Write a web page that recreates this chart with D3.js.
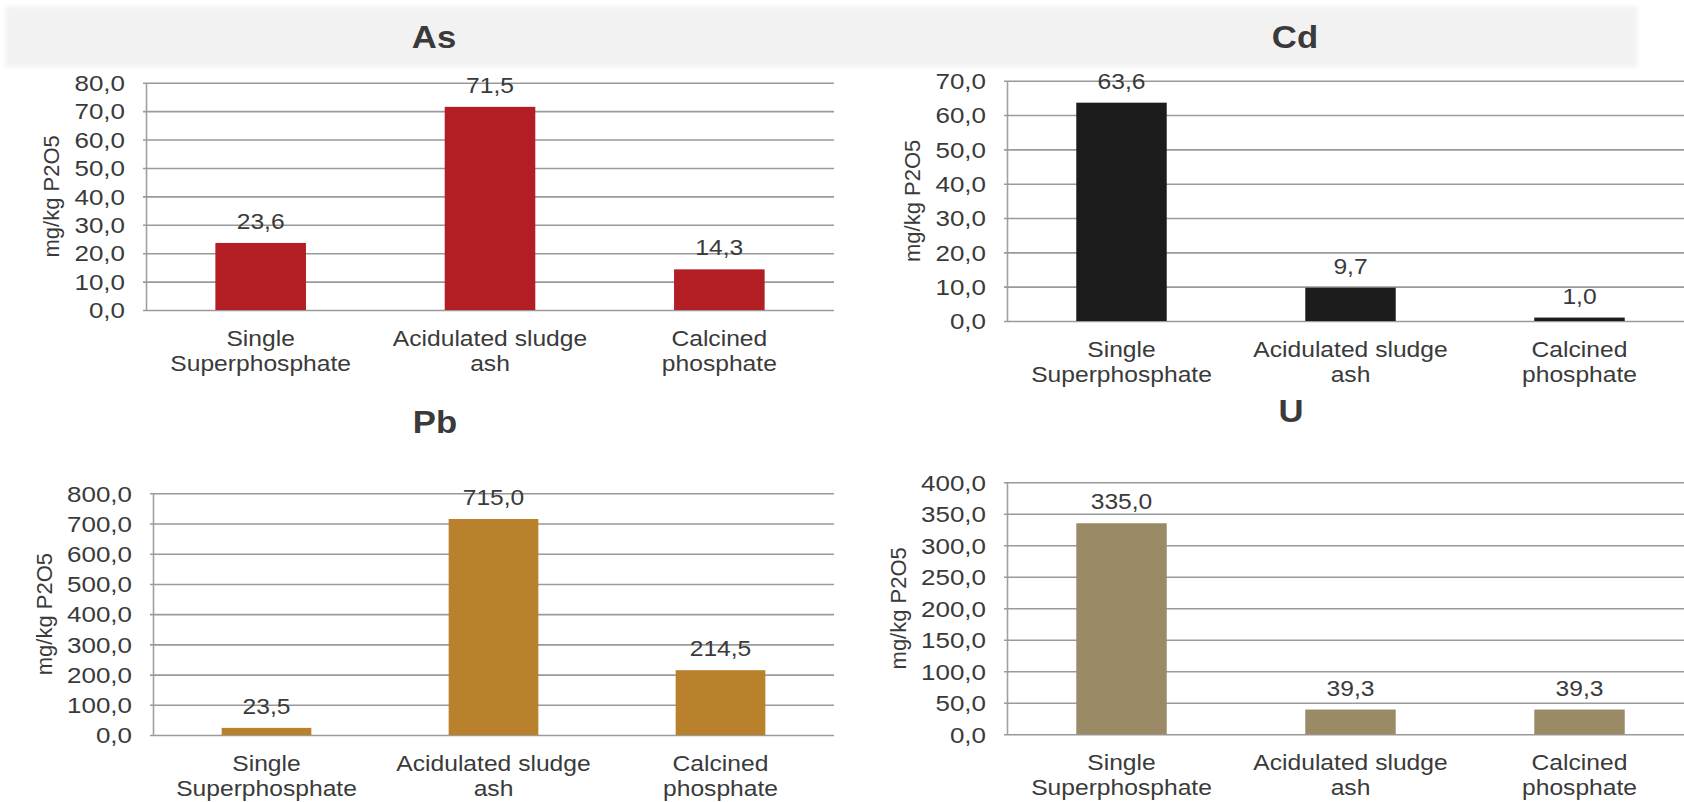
<!DOCTYPE html>
<html>
<head>
<meta charset="utf-8">
<script src="https://cdn.jsdelivr.net/npm/d3@7"></script>
<style>
  html, body { margin: 0; padding: 0; background: #ffffff; }
  svg { display: block; }
  text { font-family: "Liberation Sans", Arial, sans-serif; fill: #3a3a3a; }
</style>
</head>
<body>
<svg id="chart" width="1684" height="802"></svg>
<script>
// ---- data ----
const categories = ["Single Superphosphate", "Acidulated sludge ash", "Calcined phosphate"];
const categoryLines = [["Single", "Superphosphate"], ["Acidulated sludge", "ash"], ["Calcined", "phosphate"]];
const elements = ["As", "Cd", "Pb", "U"];
const asValues = [23.6, 71.5, 14.3];
const cdValues = [63.6, 9.7, 1.0];
const pbValues = [23.5, 715.0, 214.5];
const uValues = [335.0, 39.3, 39.3];
const asTicks = [0, 10, 20, 30, 40, 50, 60, 70, 80];
const cdTicks = [0, 10, 20, 30, 40, 50, 60, 70];
const pbTicks = [0, 100, 200, 300, 400, 500, 600, 700, 800];
const uTicks = [0, 50, 100, 150, 200, 250, 300, 350, 400];
const yAxisTitle = "mg/kg P2O5";

// ---- styling / layout ----
const SX = 1.12;           // horizontal stretch for labels
const SX_TICK = 1.18;      // horizontal stretch for tick labels
const FONT = 22;
const panels = [
  { name: elements[0], values: asValues, ticks: asTicks, color: "#b31e25",
    left: 146, right: 834, top: 82.7, bottom: 310, titleX: 434, titleY: 48 },
  { name: elements[1], values: cdValues, ticks: cdTicks, color: "#1c1c1c",
    left: 1007, right: 1694, top: 80.7, bottom: 321, titleX: 1295, titleY: 48 },
  { name: elements[2], values: pbValues, ticks: pbTicks, color: "#b9812b",
    left: 153, right: 834, top: 493.3, bottom: 735, titleX: 435, titleY: 433 },
  { name: elements[3], values: uValues, ticks: uTicks, color: "#9a8a66",
    left: 1007, right: 1694, top: 482.3, bottom: 734.3, titleX: 1291, titleY: 422 }
];

const locale = d3.formatLocale({ decimal: ",", thousands: ".", grouping: [3], currency: ["", ""] });
const fmt = locale.format(".1f");

const svg = d3.select("#chart");

// soft grey header band behind the top titles
const defs = svg.append("defs");
defs.append("filter").attr("id", "soft")
  .attr("x", "-5%").attr("y", "-20%").attr("width", "110%").attr("height", "140%")
  .append("feGaussianBlur").attr("stdDeviation", 2);
svg.append("rect")
  .attr("x", 5).attr("y", 6).attr("width", 1632).attr("height", 61)
  .attr("fill", "#f2f2f2").attr("filter", "url(#soft)");

// place a horizontally stretched text at (x, y)
function stretchedText(g, x, y, str, anchor) {
  return g.append("text")
    .attr("transform", `translate(${x},${y}) scale(${SX},1)`)
    .attr("text-anchor", anchor || "middle")
    .text(str);
}

panels.forEach(p => {
  const g = svg.append("g");

  const x = d3.scaleBand()
    .domain(categories)
    .range([p.left, p.right])
    .paddingInner(0.605)
    .paddingOuter(0.3025);

  const y = d3.scaleLinear()
    .domain([0, d3.max(p.ticks)])
    .range([p.bottom, p.top]);

  // gridlines + tick labels
  const axis = d3.axisLeft(y)
    .tickValues(p.ticks)
    .tickSizeInner(-(p.right - p.left))
    .tickSizeOuter(0)
    .tickPadding(21)
    .tickFormat(fmt);

  const ag = g.append("g")
    .attr("transform", `translate(${p.left},0)`)
    .call(axis);
  ag.select(".domain").attr("stroke", "#a0a0a0").attr("stroke-width", 1.6);
  ag.selectAll(".tick line")
    .attr("x1", -3)
    .attr("stroke", "#9a9a9a").attr("stroke-width", 1.6);
  ag.selectAll(".tick text")
    .attr("font-family", "Liberation Sans, Arial, sans-serif")
    .attr("font-size", FONT)
    .attr("fill", "#3a3a3a")
    .attr("x", null)
    .attr("dy", null)
    .attr("transform", `translate(-21,0) scale(${SX_TICK},1)`)
    .attr("dominant-baseline", "central");

  // y-axis title, left of the tick labels
  const bb = ag.node().getBBox();
  const tx = p.left + bb.x - 12 - FONT / 2;
  g.append("text")
    .attr("transform", `translate(${tx},${(p.top + p.bottom) / 2}) rotate(-90)`)
    .attr("text-anchor", "middle")
    .attr("dominant-baseline", "central")
    .attr("font-size", FONT)
    .text(yAxisTitle);

  // bars
  g.selectAll("rect.bar")
    .data(p.values)
    .join("rect")
    .attr("class", "bar")
    .attr("x", (d, i) => x(categories[i]))
    .attr("width", x.bandwidth())
    .attr("y", d => y(d))
    .attr("height", d => y(0) - y(d))
    .attr("fill", p.color);

  // value labels
  p.values.forEach((v, i) => {
    stretchedText(g, x(categories[i]) + x.bandwidth() / 2, y(v) - 14, fmt(v))
      .attr("font-size", FONT);
  });

  // category labels (two lines)
  categoryLines.forEach((lines, i) => {
    lines.forEach((ln, j) => {
      stretchedText(g, x(categories[i]) + x.bandwidth() / 2, p.bottom + 36 + j * 25, ln)
        .attr("font-size", FONT);
    });
  });

  // panel title
  stretchedText(g, p.titleX, p.titleY, p.name)
    .attr("font-size", 31)
    .attr("font-weight", "bold")
    .attr("fill", "#333333");
});
</script>
</body>
</html>
